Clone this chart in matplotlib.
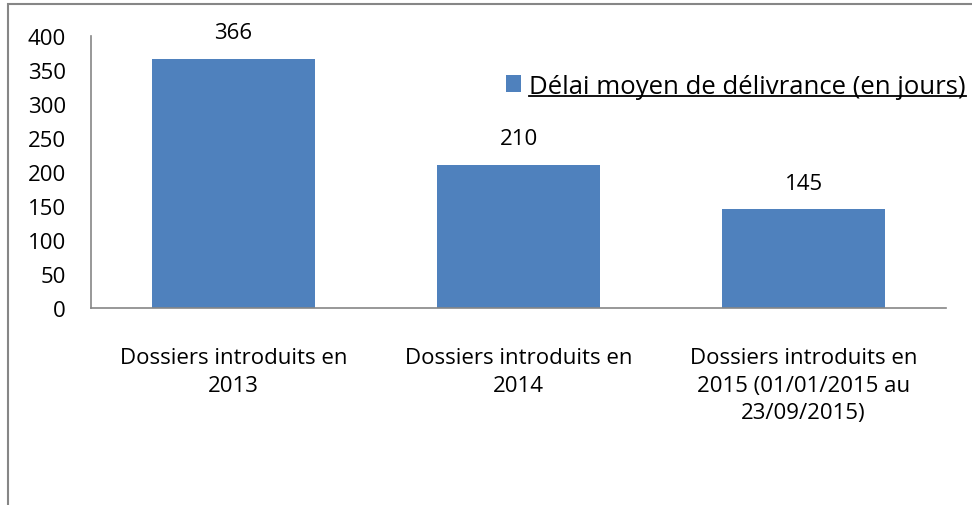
import matplotlib
matplotlib.use('Agg')
import matplotlib.pyplot as plt
from matplotlib.lines import Line2D
from matplotlib.patches import Rectangle

categories = ['Dossiers introduits en\n2013',
              'Dossiers introduits en\n2014',
              'Dossiers introduits en\n2015 (01/01/2015 au\n23/09/2015)']
values = [366, 210, 145]
series_name = 'Délai moyen de délivrance (en jours)'
yticks = [0, 50, 100, 150, 200, 250, 300, 350, 400]

plt.rcParams['font.family'] = ['Open Sans', 'DejaVu Sans']
blue = '#4F81BD'
grey = '#868686'
fs = 16

fig = plt.figure(figsize=(9.72, 5.06), dpi=100)
ax = fig.add_axes([91/972, 1 - 309/506, (946-91)/972, (309-37)/506])

x = range(len(values))
bars = ax.bar(x, values, width=0.572, color=blue, label=series_name)
for xi, v in zip(x, values):
    ax.annotate(str(v), (xi, v), xytext=(0, 19), textcoords='offset points',
                ha='center', va='center', fontsize=fs)

ax.set_xlim(-0.5, len(values) - 0.5)
ax.set_ylim(0, 400)
ax.set_yticks(yticks)
ax.set_xticks(list(x))
ax.set_xticklabels(categories, fontsize=fs, linespacing=1.42)
ax.tick_params(axis='y', length=0, labelsize=fs, pad=18)
ax.tick_params(axis='x', length=0, pad=28)
for s in ['top', 'right']:
    ax.spines[s].set_visible(False)
for s in ['left', 'bottom']:
    ax.spines[s].set_color(grey)
    ax.spines[s].set_linewidth(1.2)

leg = ax.legend(loc='center left', bbox_to_anchor=(506/972, 1 - 87/506),
                bbox_transform=fig.transFigure, frameon=False, fontsize=18.5,
                handlelength=0.6, handleheight=0.6, handletextpad=0.3,
                borderpad=0, borderaxespad=0)

# underline the legend text
fig.canvas.draw()
r = fig.canvas.get_renderer()
t = leg.get_texts()[0]
bb = t.get_window_extent(r).transformed(fig.transFigure.inverted())
fig.add_artist(Line2D([bb.x0, bb.x1], [bb.y0 + 0.004, bb.y0 + 0.004],
                      transform=fig.transFigure, color='black', lw=1.3))

# outer chart frame
fig.add_artist(Rectangle((8/972, -0.05), 1.1, 1 - 5/506 + 0.05,
                         transform=fig.transFigure, fill=False,
                         edgecolor=grey, lw=1.5))

fig.savefig('out.png', dpi=100)
